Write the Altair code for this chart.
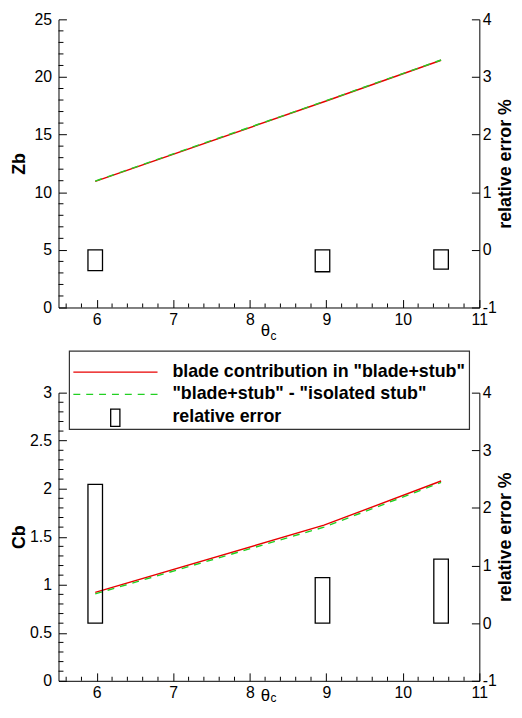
import altair as alt
import pandas as pd

# ---- data ----
theta = [5.98, 8.97, 10.5]
zb_blade = [10.95, 17.85, 21.45]
zb_diff = [10.97, 17.88, 21.47]
zb_err = [-0.36, -0.38, -0.335]

cb_blade = [0.92, 1.62, 2.08]
cb_diff = [0.905, 1.60, 2.065]
cb_err = [2.41, 0.79, 1.11]
bar_theta = [5.98, 8.95, 10.5]

x_major = [6, 7, 8, 9, 10, 11]
x_minor = [5.6, 5.8, 6.2, 6.4, 6.6, 6.8, 7.2, 7.4, 7.6, 7.8, 8.2, 8.4, 8.6, 8.8,
           9.2, 9.4, 9.6, 9.8, 10.2, 10.4, 10.6, 10.8]
zb_major = [0, 5, 10, 15, 20, 25]
zb_minor = [1, 2, 3, 4, 6, 7, 8, 9, 11, 12, 13, 14, 16, 17, 18, 19, 21, 22, 23, 24]
cb_major = [0, 0.5, 1, 1.5, 2, 2.5, 3]
cb_minor = [0.1, 0.2, 0.3, 0.4, 0.6, 0.7, 0.8, 0.9, 1.1, 1.2, 1.3, 1.4, 1.6, 1.7, 1.8, 1.9,
            2.1, 2.2, 2.3, 2.4, 2.6, 2.7, 2.8, 2.9]
err_major = [-1, 0, 1, 2, 3, 4]

legend_labels = ['blade contribution in "blade+stub"',
                 '"blade+stub" - "isolated stub"',
                 'relative error']

W, H = 425, 291
FONT = "Liberation Sans"
RED = "#e80000"
GREEN = "#22d022"
DASH = [7, 6]


def axis_common(**kw):
    base = dict(grid=False, tickSize={"expr": "-8"}, tickColor="black", tickWidth=1,
                domainColor="black", domainWidth=1, labelColor="black",
                labelFont=FONT, labelFontSize=16, titleFont=FONT, titleFontSize=18,
                titleFontWeight="bold", titleColor="black",
                labelExpr="'' + datum.value")
    base.update(kw)
    return alt.Axis(**base)


def one_row():
    return alt.Chart(pd.DataFrame({"a": [0]}))


def panel(blade, diff, errs, ytitle, ydom, ymajor, yminor, th_dy, sub_dy, legend=False):
    df = pd.DataFrame({"theta": theta, "blade": blade, "diff": diff})
    bar_df = pd.DataFrame({"theta": bar_theta, "err": errs})
    xs = alt.Scale(domain=[5.5, 11], nice=False, zero=False)
    es = alt.Scale(domain=[-1, 4], nice=False, zero=False)

    def ys():
        return alt.Scale(domain=ydom, nice=False, zero=False)

    xaxis = axis_common(values=x_major, title=None, orient="bottom", labelPadding=12,
                        labelFlush=False)
    yaxis = axis_common(values=ymajor, title=ytitle, orient="left", labelPadding=15,
                        minExtent=24, maxExtent=24, titlePadding=6)
    eaxis = axis_common(values=err_major, title="relative error %", orient="right",
                        labelPadding=11, labelAlign="left", minExtent=16, maxExtent=16,
                        titlePadding=1, titleAngle=270, titleBaseline="top")

    red = alt.Chart(df).mark_line(color=RED, strokeWidth=1.4).encode(
        x=alt.X("theta:Q", scale=xs, axis=xaxis),
        y=alt.Y("blade:Q", scale=ys(), axis=yaxis))
    green = alt.Chart(df).mark_line(color=GREEN, strokeWidth=1.4, strokeDash=DASH).encode(
        x=alt.X("theta:Q", scale=xs, axis=xaxis),
        y=alt.Y("diff:Q", scale=ys(), axis=None))
    xmin = alt.Chart(pd.DataFrame({"v": x_minor})).mark_tick(
        orient="vertical", size=4, thickness=1, color="black", opacity=1).encode(
        x=alt.X("v:Q", scale=xs, axis=xaxis), y=alt.value(H - 2))
    ymin = alt.Chart(pd.DataFrame({"v": yminor})).mark_tick(
        orient="horizontal", size=5, thickness=1, color="black", opacity=1).encode(
        y=alt.Y("v:Q", scale=ys(), axis=None), x=alt.value(2.5))

    bars = alt.Chart(bar_df).transform_calculate(
        lo="datum.theta - 0.095", hi="datum.theta + 0.095").mark_rect(
        fillOpacity=0, stroke="black", strokeWidth=1.3).encode(
        x=alt.X("lo:Q", scale=xs, axis=xaxis), x2="hi:Q",
        y=alt.Y("err:Q", scale=es, axis=eaxis), y2=alt.datum(0))

    th = one_row().mark_text(text="θ", font=FONT, fontSize=17, align="center",
                             baseline="top", color="black").encode(
        x=alt.value(209), y=alt.value(H + th_dy))
    sub = one_row().mark_text(text="c", font=FONT, fontSize=12, align="left",
                              baseline="top", color="black").encode(
        x=alt.value(214), y=alt.value(H + sub_dy))

    layers = [red, green, xmin, ymin, bars, th, sub]

    if legend:
        box = one_row().mark_rect(fill="white", stroke="#333333", strokeWidth=1.2).encode(
            x=alt.value(11), x2=alt.value(415), y=alt.value(-42), y2=alt.value(37))
        l1 = one_row().mark_rule(color=RED, strokeWidth=1.4).encode(
            x=alt.value(15), x2=alt.value(100), y=alt.value(-20.7))
        l2 = one_row().mark_rule(color=GREEN, strokeWidth=1.4, strokeDash=DASH).encode(
            x=alt.value(15), x2=alt.value(100), y=alt.value(1.7))
        sym = one_row().mark_rect(fillOpacity=0, stroke="black", strokeWidth=1.3).encode(
            x=alt.value(52.7), x2=alt.value(62), y=alt.value(16.7), y2=alt.value(34))
        txt = []
        for lab, yy in zip(legend_labels, [-20.7, 1.7, 25]):
            txt.append(one_row().mark_text(text=lab, font=FONT, fontSize=18, fontWeight="bold",
                                           align="left", baseline="middle", color="black").encode(
                x=alt.value(115), y=alt.value(yy)))
        layers += [box, l1, l2, sym] + txt

    return alt.layer(*layers).resolve_scale(y="independent").properties(width=W, height=H)


top = panel(zb_blade, zb_diff, zb_err, "Zb", [0, 25], zb_major, zb_minor, 16, 24)
bottom = panel(cb_blade, cb_diff, cb_err, "Cb", [0, 3], cb_major, cb_minor, 7, 12, legend=True)

chart = alt.vconcat(top, bottom, spacing=8).configure_view(stroke=None).properties(
    padding={"left": 3, "top": 0, "right": 0, "bottom": 0})

chart.save("out.html", embed_options={"renderer": "svg", "actions": False})
